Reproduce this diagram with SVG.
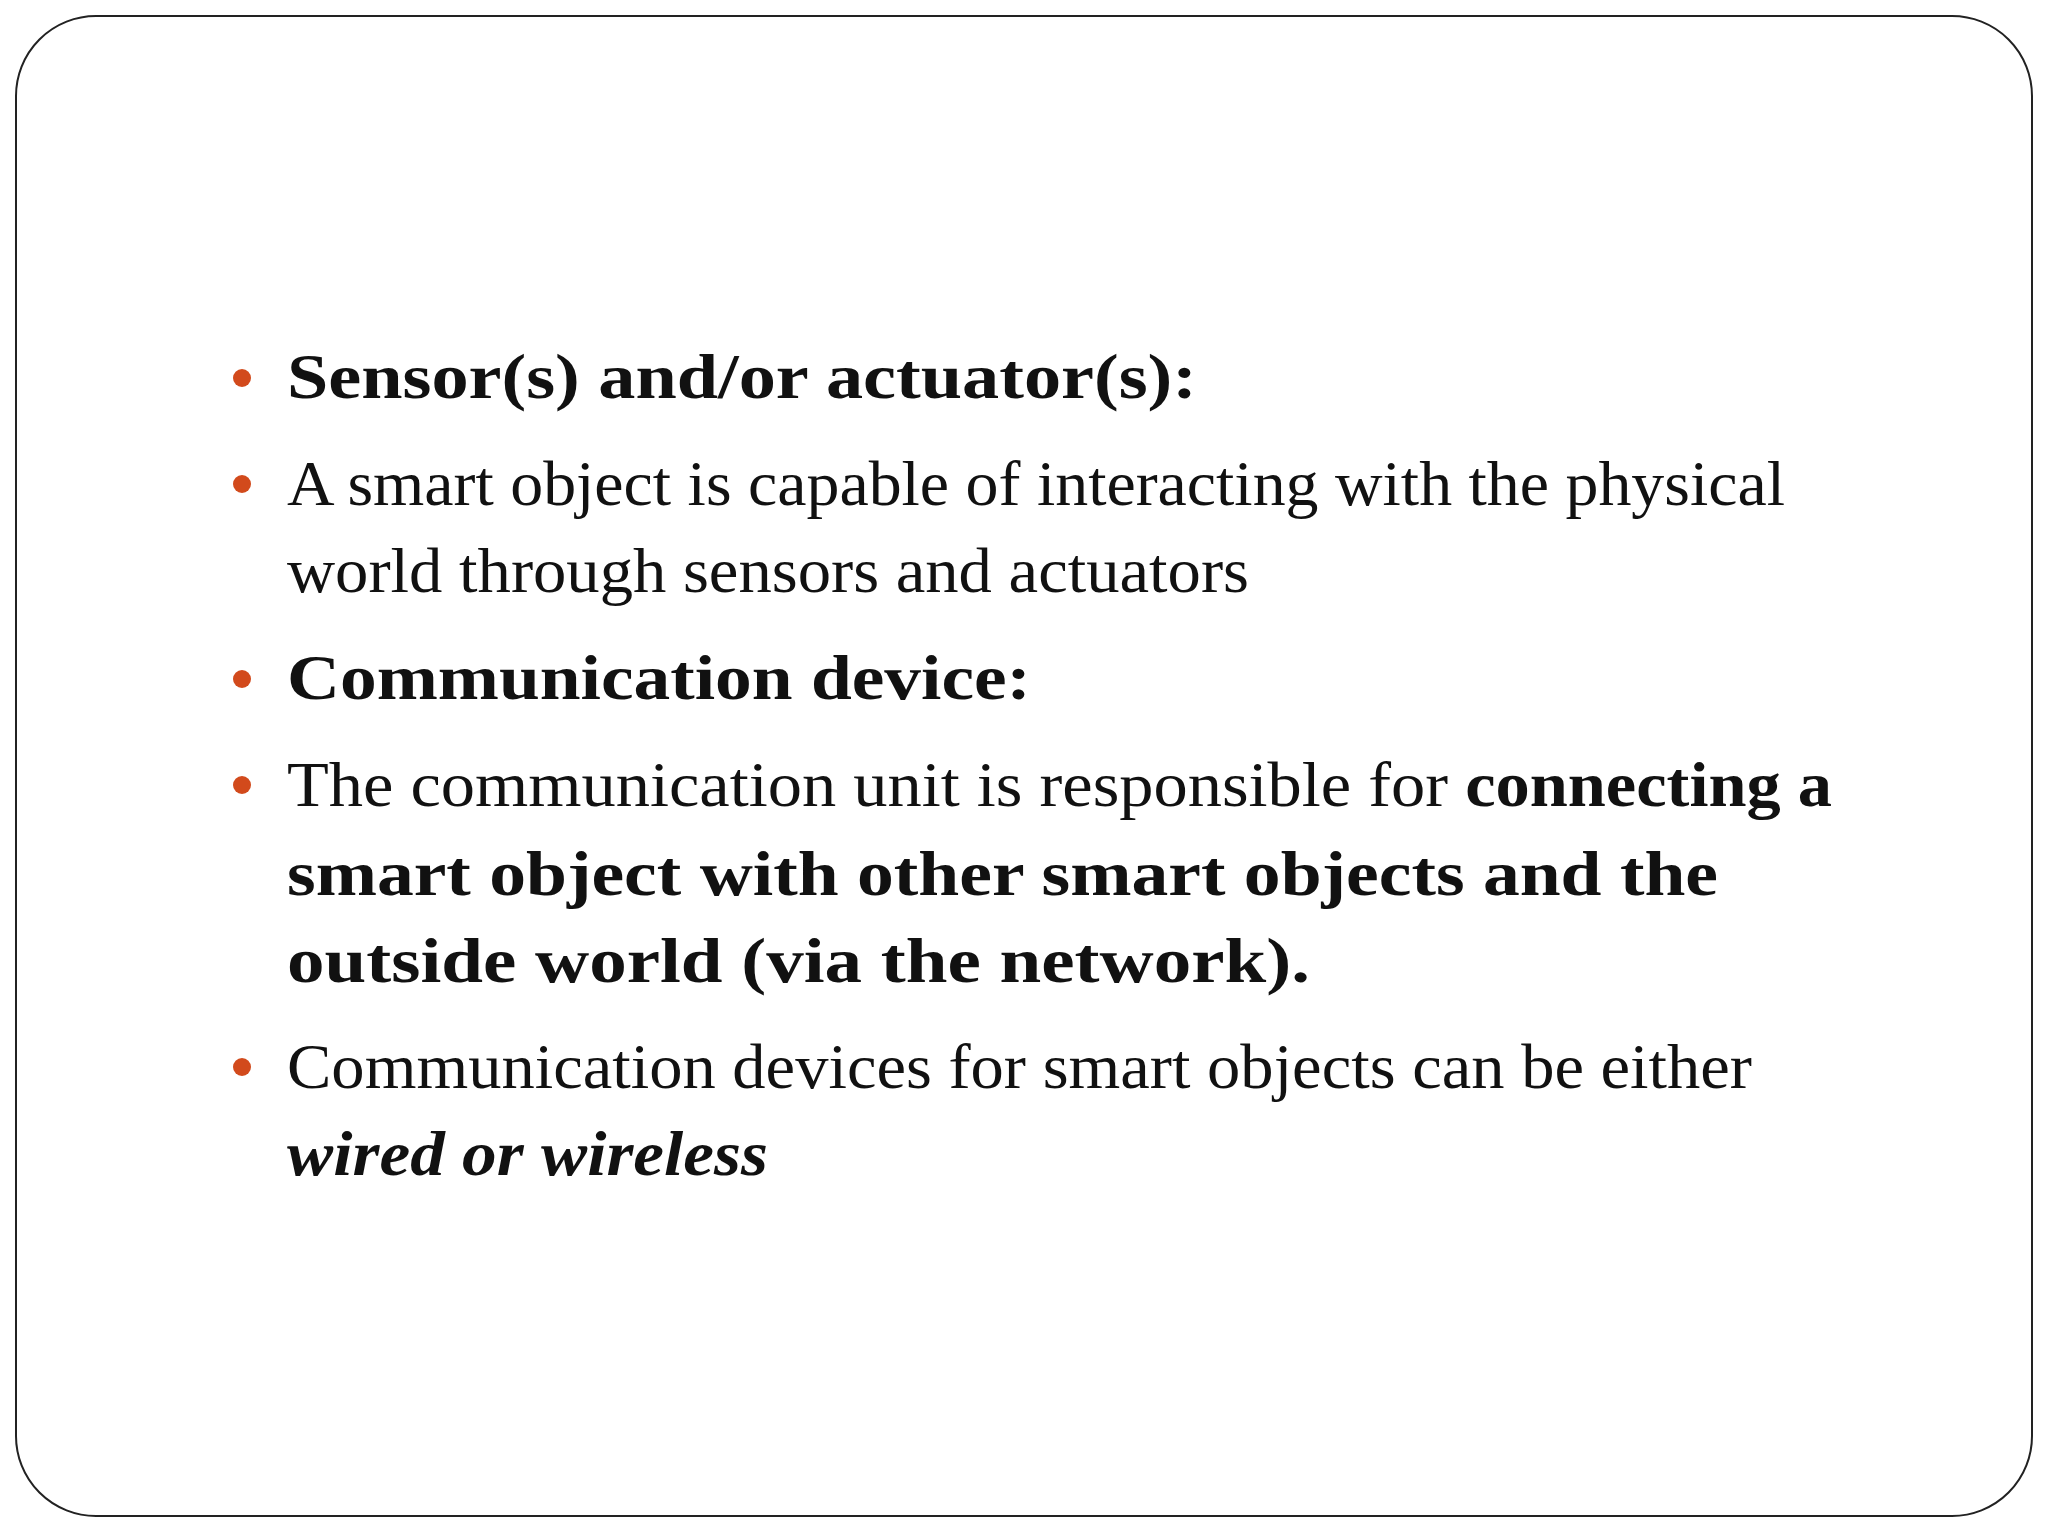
<svg xmlns="http://www.w3.org/2000/svg" width="2048" height="1536" viewBox="0 0 2048 1536">
<style>
text{font-family:"Liberation Serif",serif;font-size:64px;fill:#111}
.b{font-weight:bold}
.i{font-style:italic;font-weight:bold}
circle{fill:#D24A1C}
</style>
<rect width="2048" height="1536" fill="#fff"/>
<rect id="frame" x="16" y="16" width="2016" height="1500" rx="80" fill="none" stroke="#222" stroke-width="2"/>
<g id="bullets">
<circle cx="242" cy="378" r="9"/>
<circle cx="242" cy="484" r="9"/>
<circle cx="242" cy="679" r="9"/>
<circle cx="242" cy="785" r="9"/>
<circle cx="242" cy="1067" r="9"/>
</g>
<g id="text">
<text x="287" y="398" class="b" textLength="910" lengthAdjust="spacingAndGlyphs">Sensor(s) and/or actuator(s):</text>
<text x="287" y="505" textLength="1498" lengthAdjust="spacingAndGlyphs">A smart object is capable of interacting with the physical</text>
<text x="287" y="592" textLength="962" lengthAdjust="spacingAndGlyphs">world through sensors and actuators</text>
<text x="287" y="699" class="b" textLength="744" lengthAdjust="spacingAndGlyphs">Communication device:</text>
<text x="287" y="806" textLength="1545" lengthAdjust="spacingAndGlyphs">The communication unit is responsible for <tspan class="b">connecting a</tspan></text>
<text x="287" y="895" class="b" textLength="1431" lengthAdjust="spacingAndGlyphs">smart object with other smart objects and the</text>
<text x="287" y="982" class="b" textLength="1023" lengthAdjust="spacingAndGlyphs">outside world (via the network).</text>
<text x="287" y="1088" textLength="1465" lengthAdjust="spacingAndGlyphs">Communication devices for smart objects can be either</text>
<text x="287" y="1175" class="i" textLength="481" lengthAdjust="spacingAndGlyphs">wired or wireless</text>
</g>
</svg>
